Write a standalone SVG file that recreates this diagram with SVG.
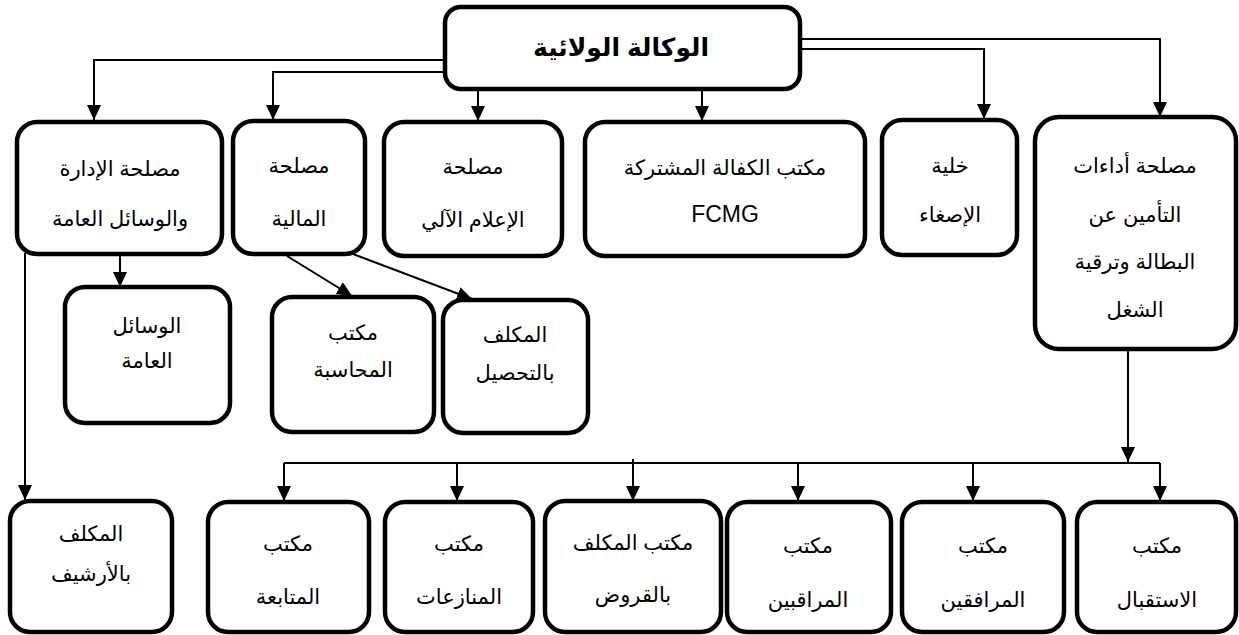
<svg xmlns="http://www.w3.org/2000/svg" width="1239" height="635" viewBox="0 0 1239 635">
<defs>
<marker id="arr" markerUnits="userSpaceOnUse" markerWidth="16" markerHeight="16" refX="15" refY="7" orient="auto">
<path d="M0,0 L15,7 L0,14 z" fill="#000"/>
</marker>
<style>
.box{fill:#fff;stroke:#000;stroke-width:4.5}
.t{font-family:"Liberation Sans","DejaVu Sans",sans-serif;font-size:21px;fill:#000;text-anchor:middle}
.title{font-family:"Liberation Sans","DejaVu Sans",sans-serif;font-size:25px;font-weight:bold;fill:#000;text-anchor:middle}
.c{fill:none;stroke:#000;stroke-width:2}
.a{fill:none;stroke:#000;stroke-width:2;marker-end:url(#arr)}
</style>
</defs>
<rect width="1239" height="635" fill="#fff"/>
<g id="connectors">
<path class="a" d="M445,60 H94 V120"/>
<path class="a" d="M445,72 H273 V120"/>
<path class="a" d="M800,39 H1160 V117"/>
<path class="a" d="M800,49 H984 V119"/>
<path class="a" d="M478,89 V121"/>
<path class="a" d="M702,89 V121"/>
<path class="a" d="M120,255 V287"/>
<path class="a" d="M287,256 L352,296"/>
<path class="a" d="M353,254 L472,299"/>
<path class="a" d="M25,253 V500"/>
<path class="a" d="M1128,349 V462"/>
<path class="c" d="M284,463 H1160"/>
<path class="a" d="M284,463 V501"/>
<path class="a" d="M457,463 V501"/>
<path class="a" d="M633,459 V501"/>
<path class="a" d="M798,463 V501"/>
<path class="a" d="M973,463 V501"/>
<path class="a" d="M1160,463 V501"/>
</g>
<g id="n-top"><rect class="box" x="445" y="7" width="355" height="82" rx="16"/><text class="title" x="621" y="56">الوكالة الولائية</text></g>
<g id="n-admin"><rect class="box" x="17" y="122" width="205" height="132" rx="20"/><text class="t" x="120" y="176">مصلحة الإدارة</text><text class="t" x="120" y="226">والوسائل العامة</text></g>
<g id="n-finance"><rect class="box" x="233" y="121" width="132" height="133" rx="20"/><text class="t" x="299" y="173">مصلحة</text><text class="t" x="299" y="226">المالية</text></g>
<g id="n-it"><rect class="box" x="384" y="122" width="178" height="134" rx="20"/><text class="t" x="473" y="174">مصلحة</text><text class="t" x="473" y="227">الإعلام الآلي</text></g>
<g id="n-fcmg"><rect class="box" x="585" y="122" width="280" height="134" rx="20"/><text class="t" x="725" y="175">مكتب الكفالة المشتركة</text><text class="t" x="725" y="222" style="font-size:23px">FCMG</text></g>
<g id="n-listen"><rect class="box" x="882" y="120" width="135" height="135" rx="20"/><text class="t" x="950" y="173">خلية</text><text class="t" x="950" y="222">الإصغاء</text></g>
<g id="n-insurance"><rect class="box" x="1035" y="117" width="201" height="232" rx="24"/><text class="t" x="1135" y="173">مصلحة أداءات</text><text class="t" x="1135" y="222">التأمين عن</text><text class="t" x="1135" y="269">البطالة وترقية</text><text class="t" x="1135" y="317">الشغل</text></g>
<g id="n-means"><rect class="box" x="65" y="287" width="165" height="136" rx="20"/><text class="t" x="147" y="333">الوسائل</text><text class="t" x="147" y="368">العامة</text></g>
<g id="n-accounting"><rect class="box" x="272" y="297" width="162" height="135" rx="20"/><text class="t" x="353" y="340">مكتب</text><text class="t" x="353" y="377">المحاسبة</text></g>
<g id="n-collection"><rect class="box" x="443" y="300" width="145" height="133" rx="20"/><text class="t" x="515" y="342">المكلف</text><text class="t" x="515" y="380">بالتحصيل</text></g>
<g id="n-archive"><rect class="box" x="10" y="501" width="162" height="131" rx="20"/><text class="t" x="91" y="541">المكلف</text><text class="t" x="91" y="581">بالأرشيف</text></g>
<g id="n-followup"><rect class="box" x="208" y="502" width="161" height="130" rx="20"/><text class="t" x="288" y="551">مكتب</text><text class="t" x="288" y="604">المتابعة</text></g>
<g id="n-disputes"><rect class="box" x="385" y="502" width="148" height="130" rx="20"/><text class="t" x="459" y="551">مكتب</text><text class="t" x="459" y="604">المنازعات</text></g>
<g id="n-loans"><rect class="box" x="545" y="501" width="176" height="131" rx="20"/><text class="t" x="633" y="550">مكتب المكلف</text><text class="t" x="633" y="602">بالقروض</text></g>
<g id="n-controllers"><rect class="box" x="727" y="502" width="164" height="130" rx="20"/><text class="t" x="808" y="553">مكتب</text><text class="t" x="808" y="607">المراقبين</text></g>
<g id="n-companions"><rect class="box" x="902" y="502" width="162" height="130" rx="20"/><text class="t" x="983" y="553">مكتب</text><text class="t" x="983" y="607">المرافقين</text></g>
<g id="n-reception"><rect class="box" x="1077" y="502" width="159" height="130" rx="20"/><text class="t" x="1157" y="553">مكتب</text><text class="t" x="1157" y="607">الاستقبال</text></g>
</svg>
